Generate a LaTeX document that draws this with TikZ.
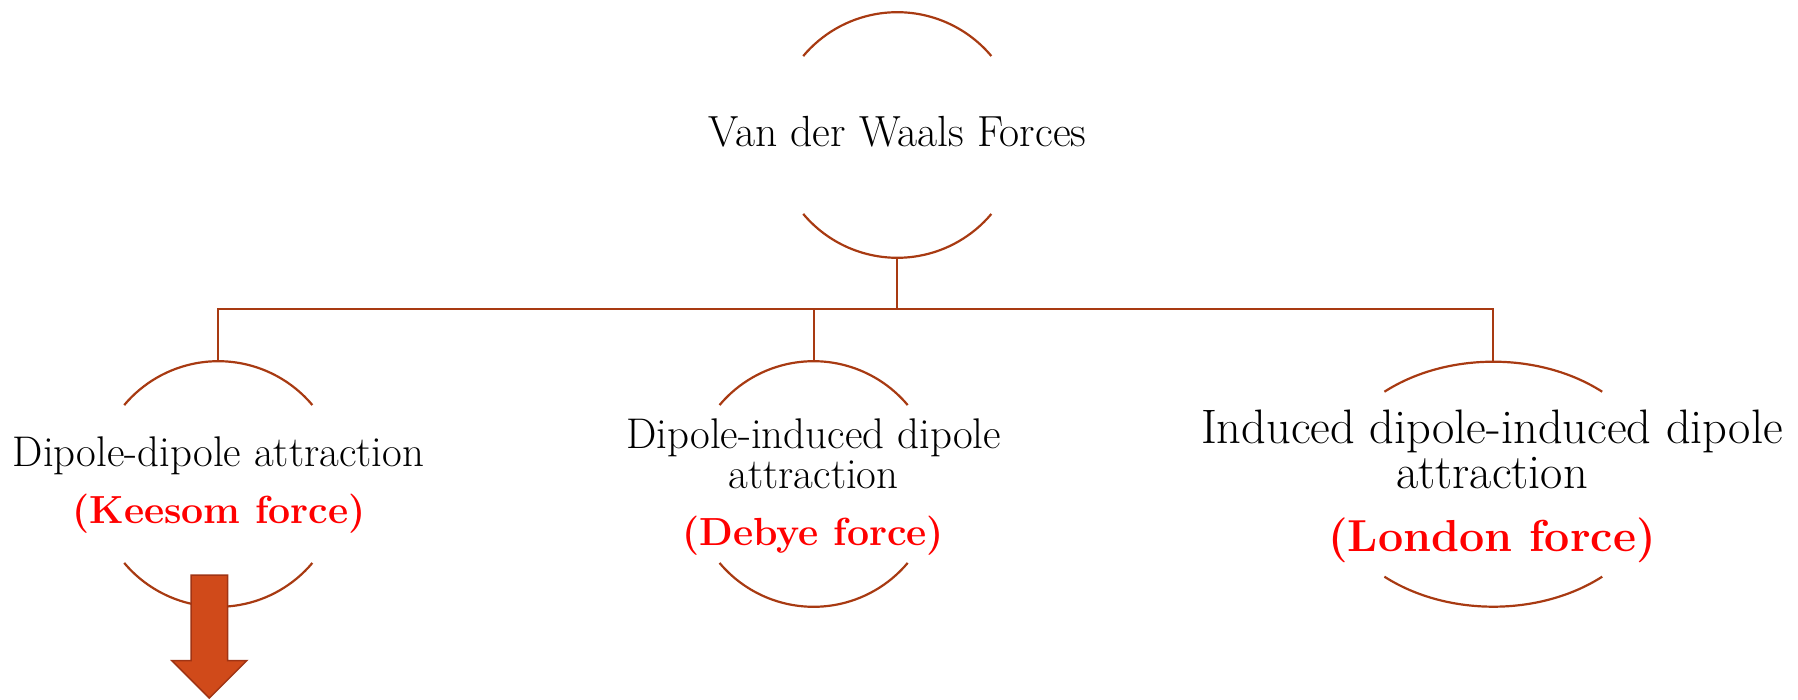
\documentclass[tikz,border=0pt]{standalone}
\usetikzlibrary{shapes.geometric}
\definecolor{lineclr}{RGB}{168,58,18}
\definecolor{arrowfill}{RGB}{208,74,26}
\definecolor{arrowdraw}{RGB}{160,52,20}
\definecolor{redtxt}{RGB}{255,0,0}
\tikzset{
  ln/.style={draw=lineclr, line width=2.2pt},
  ring/.style={circle, draw=none, inner sep=0pt, outer sep=0pt, minimum size=245.6pt},
  oval/.style={ellipse, draw=none, inner sep=0pt, outer sep=0pt, minimum width=332pt, minimum height=245pt},
  topfont/.style={font=\fontsize{43.6}{48}\selectfont},
  midfont/.style={font=\fontsize{42.9}{46}\selectfont},
  bigfont/.style={font=\fontsize{48.4}{52}\selectfont},
  redmid/.style={text=redtxt, font=\fontsize{39.2}{44}\selectfont\bfseries},
  redbig/.style={text=redtxt, font=\fontsize{44.8}{48}\selectfont\bfseries},
  lbl/.style={inner sep=0pt, anchor=base},
}
\begin{document}
\begin{tikzpicture}[x=1pt,y=1pt]
\useasboundingbox (0,0) rectangle (1798,-700);
% shape holders
\node[ring] (c0) at (897.3,-135) {};
\node[ring] (c1) at (218.3,-484) {};
\node[ring] (c2) at (813.6,-484) {};
\node[oval] (c3) at (1493.3,-484.2) {};
\coordinate (bus) at (0,-309.3);
% arcs
\foreach \c in {c0,c1,c2}{
  \draw[ln] (\c.center) ++(40:122.8) arc[start angle=40, end angle=140, radius=122.8];
  \draw[ln] (\c.center) ++(220:122.8) arc[start angle=220, end angle=320, radius=122.8];
}
\draw[ln] (c3.center) ++(49:166 and 122.5) arc[start angle=49, end angle=131, x radius=166, y radius=122.5];
\draw[ln] (c3.center) ++(229:166 and 122.5) arc[start angle=229, end angle=311, x radius=166, y radius=122.5];
% connectors
\draw[ln] (c1.north) -- (c1.north |- bus) -- (c3.north |- bus) -- (c3.north);
\draw[ln] (c0.south) -- (c0.south |- bus);
\draw[ln] (c2.north) -- (c2.north |- bus);
% texts
\node[lbl, topfont] (vdw) at (897.3,-146.7) {Van der Waals Forces};
\node[lbl, midfont] (dd) at (218.5,-466.7) {Dipole-dipole attraction};
\node[lbl, redmid] (kee) at (219,-523) {(Keesom force)};
\node[lbl, midfont] (did1) at (813.6,-448.3) {Dipole-induced dipole};
\node[lbl, midfont] (did2) at (813.6,-488.3) {attraction};
\node[lbl, redmid] (deb) at (813.3,-545) {(Debye force)};
\node[lbl, bigfont] (idid1) at (1492,-443.3) {Induced dipole-induced dipole};
\node[lbl, bigfont] (idid2) at (1492,-488.3) {attraction};
\node[lbl, redbig] (lon) at (1492,-551.7) {(London force)};
% block arrow
\draw[fill=arrowfill, draw=arrowdraw, line width=1.5pt, line join=miter]
  (191,-575) -- (227.7,-575) -- (227.7,-660.7) -- (246.7,-660.7) -- (209.3,-698)
  -- (171.9,-660.7) -- (191,-660.7) -- cycle;
\end{tikzpicture}
\end{document}
